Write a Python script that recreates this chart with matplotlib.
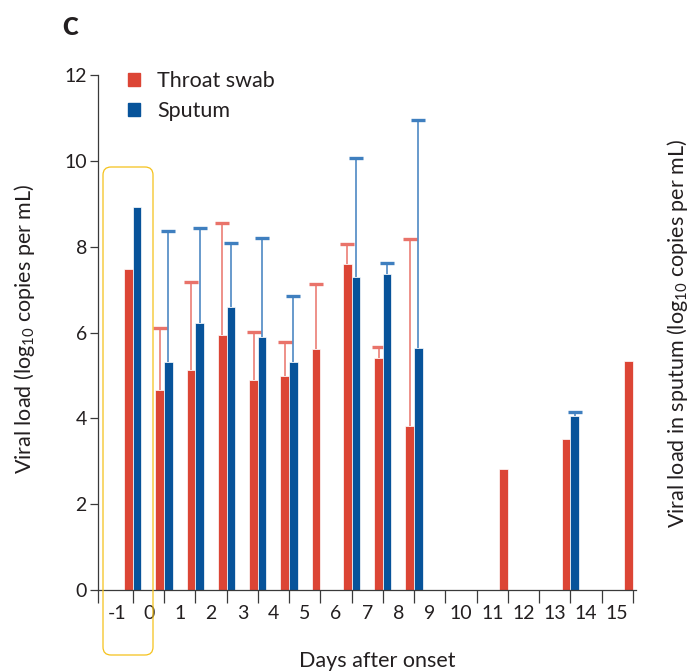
import numpy as np
import matplotlib
matplotlib.use('Agg')
import matplotlib.pyplot as plt
from matplotlib.patches import Patch, FancyBboxPatch

plt.rcParams['font.family'] = ['Lato', 'DejaVu Sans']
plt.rcParams['mathtext.fontset'] = 'custom'
plt.rcParams['mathtext.rm'] = 'Lato'
plt.rcParams['mathtext.it'] = 'Lato'

nan = np.nan
# bar slots (one pair of bars per tick)
slots = np.arange(17)
day_labels = [str(d) for d in range(-1, 16)]

throat = [7.48, 4.66, 5.12, 5.94, 4.89, 4.99, 5.61, 7.60, 5.41, 3.82,
          nan, nan, 2.83, nan, 3.53, nan, 5.34]
throat_upper = [nan, 6.10, 7.18, 8.55, 6.02, 5.79, 7.14, 8.06, 5.67, 8.17,
                nan, nan, nan, nan, nan, nan, nan]
sputum = [8.93, 5.32, 6.22, 6.60, 5.89, 5.32, nan, 7.30, 7.36, 5.65,
          nan, nan, nan, nan, 4.05, nan, nan]
sputum_upper = [nan, 8.36, 8.43, 8.08, 8.20, 6.85, nan, 10.06, 7.63, 10.95,
                nan, nan, nan, nan, 4.15, nan, nan]

red = '#DC4535'
red_light = '#E9736A'
blue = '#07539A'
blue_light = '#3F7FBF'
ink = '#231F20'

fig = plt.figure(figsize=(6.92, 6.72), dpi=100)
ax = fig.add_axes([98 / 692, 82 / 672, 538 / 692, 515 / 672])

w_red = 0.28
w_blue = 0.27


def draw(vals, upper, width, col, col_light):
    vals = np.array(vals, dtype=float)
    upper = np.array(upper, dtype=float)
    m = ~np.isnan(vals)
    ax.bar(slots[m], vals[m], width=width, align='edge', color=col,
           edgecolor='white', linewidth=0.5, zorder=2)
    e = ~np.isnan(upper)
    cx = slots[e] + width / 2
    err = upper[e] - vals[e]
    _, caps, bars = ax.errorbar(cx, vals[e], yerr=[np.zeros_like(err), err],
                                fmt='none', ecolor=col_light, elinewidth=1.1,
                                capsize=5, capthick=2.4, zorder=1)
    # only the upper cap is drawn
    caps[0].set_visible(False)
    caps[1].set_color(col)


draw(throat, throat_upper, -w_red, red, red_light)
draw(sputum, sputum_upper, w_blue, blue, blue_light)

ax.set_xlim(-1.12, 16.1)
ax.set_ylim(0, 12)

for s in ['top', 'right']:
    ax.spines[s].set_visible(False)
for s in ['left', 'bottom']:
    ax.spines[s].set_color('#3a3a3a')
    ax.spines[s].set_linewidth(0.9)

ax.set_xticks([-1.12] + list(slots))
ax.set_xticklabels([])
ax.set_xticks(np.arange(-1, 16) + 0.5, minor=True)
ax.set_xticklabels(day_labels, minor=True)
ax.tick_params(axis='x', which='major', length=9, width=0.9, color='#3a3a3a')
ax.tick_params(axis='x', which='minor', length=0, pad=11, labelsize=14,
               labelcolor=ink)
ax.set_yticks(np.arange(0, 13, 2))
ax.tick_params(axis='y', length=6, width=0.9, color='#3a3a3a', pad=2,
               labelsize=14, labelcolor=ink)

fig.text(25 / 692, 1 - 329 / 672, 'Viral load (log$_{10}$ copies per mL)',
         rotation=90, ha='center', va='center', fontsize=15.5, color=ink)
fig.text(678 / 692, 1 - 333 / 672,
         'Viral load in sputum (log$_{10}$ copies per mL)',
         rotation=90, ha='center', va='center', fontsize=15.5, color=ink)
fig.text(377 / 692, 1 - 661 / 672, 'Days after onset', ha='center',
         va='center', fontsize=15.5, color=ink)
fig.text(62 / 692, 1 - 28 / 672, 'C', ha='left', va='center', fontsize=17,
         fontweight='heavy', color=ink)

handles = [Patch(color=red), Patch(color=blue)]
ax.legend(handles, ['Throat swab', 'Sputum'], loc='upper left',
          bbox_to_anchor=(0.02, 1.045), frameon=False, fontsize=15.5,
          handlelength=0.55, handleheight=0.55, handletextpad=0.8,
          labelspacing=0.45, labelcolor=ink)

box = FancyBboxPatch((1.03, 0.17), 0.50, 4.88,
                     boxstyle='round,pad=0,rounding_size=0.08',
                     transform=fig.dpi_scale_trans, fill=False,
                     edgecolor='#F5C21B', linewidth=0.9, clip_on=False)
fig.add_artist(box)

plt.savefig('out.png', dpi=100)
